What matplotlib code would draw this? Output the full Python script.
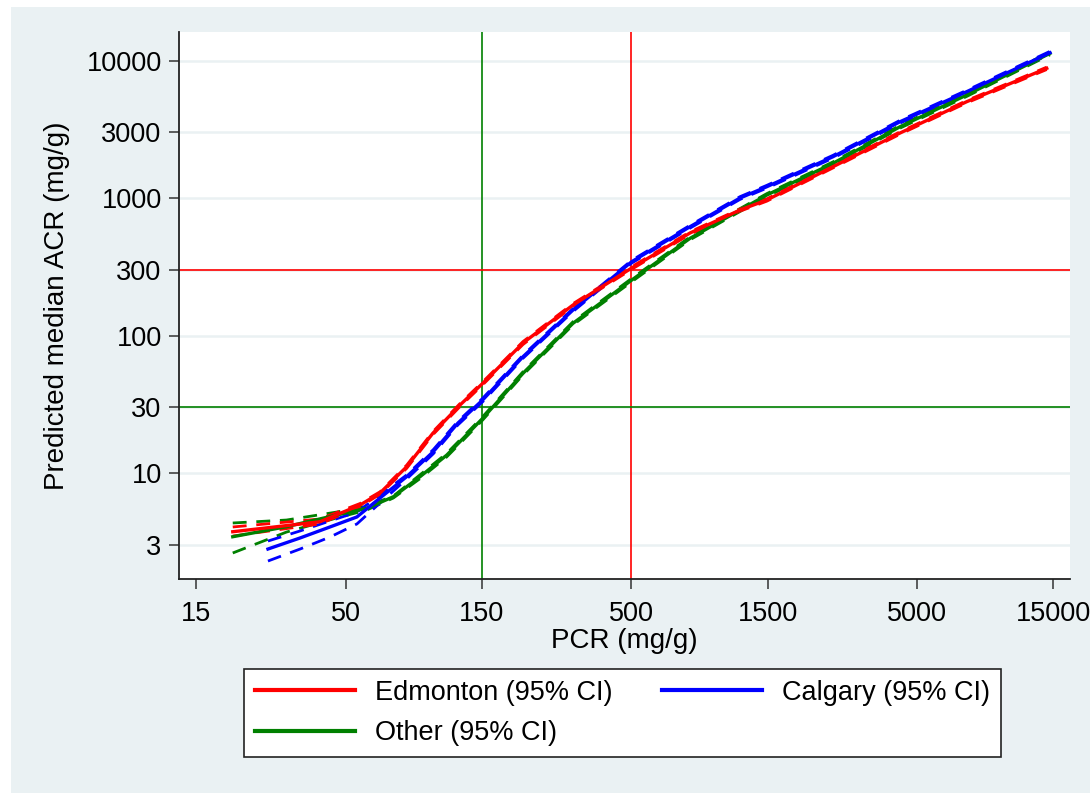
import matplotlib
matplotlib.use("Agg")
import matplotlib.pyplot as plt
from matplotlib.patches import Rectangle
import numpy as np

plt.rcParams['font.family'] = ['Liberation Sans', 'DejaVu Sans']

# PCR (mg/g) and predicted median ACR (mg/g)
edm_pcr = [20.1, 40.6, 56.1, 65.9, 81.7, 101, 125.6, 150.9, 208.8, 312.5,
           501.6, 803, 1202, 1491, 2544, 4368, 7478, 14260]
edm_acr = [3.74, 4.42, 5.85, 7.15, 11.1, 19.5, 31.2, 44.9, 88.2, 166.7,
           309.7, 556.7, 818, 967, 1689, 2970, 5017, 8777]
edm_lo = [3.48, 4.26, 5.70, 7.0, 10.8, 19.0, 30.4, 43.8, 86.0, 163.0,
          303.0, 545.0, 802, 948, 1655, 2910, 4920, 8600]
edm_hi = [4.05, 4.63, 6.0, 7.3, 11.4, 20.0, 32.0, 46.0, 90.4, 170.5,
          316.5, 568.0, 834, 986, 1723, 3030, 5117, 8950]

cal_pcr = [26.7, 34.6, 44.0, 54.7, 65.9, 81.7, 101.3, 123.6, 150.9, 208.8,
           312.5, 501.6, 803, 1202, 1491, 2544, 4368, 7478, 14640]
cal_acr = [2.80, 3.37, 4.05, 4.79, 6.58, 9.40, 14.3, 23.1, 34.0, 70.1,
           153.3, 344, 618.5, 1000, 1208, 1997, 3588, 5933, 11390]
cal_lo = [2.29, 2.80, 3.42, 4.26, 6.05, 9.04, 13.8, 22.4, 33.0, 68.3,
          149.5, 336, 604, 977, 1180, 1950, 3505, 5795, 11120]
cal_hi = [3.20, 3.79, 4.48, 5.20, 6.92, 9.67, 14.8, 23.8, 35.0, 71.9,
          157.0, 352, 633, 1023, 1236, 2044, 3672, 6072, 11660]

oth_pcr = [20.1, 31.0, 46.5, 59.2, 73.4, 91.0, 112.9, 125.6, 150.9, 208.8,
           312.5, 501.6, 803, 1202, 1491, 2544, 4368, 7478, 14640]
oth_acr = [3.44, 4.07, 4.95, 5.54, 6.72, 9.40, 13.5, 16.9, 25.0, 53.1,
           122.7, 253, 509, 818, 1051, 1788, 3300, 5614, 11280]
oth_lo = [2.62, 3.72, 4.71, 5.38, 6.58, 9.1, 13.1, 16.4, 24.3, 51.7,
          119.5, 246, 497, 798, 1026, 1745, 3222, 5480, 11010]
oth_hi = [4.33, 4.55, 5.20, 5.75, 6.80, 9.7, 13.9, 17.4, 25.7, 54.5,
          125.9, 260, 521, 838, 1076, 1831, 3378, 5748, 11550]

xticks = [15, 50, 150, 500, 1500, 5000, 15000]
yticks = [3, 10, 30, 100, 300, 1000, 3000, 10000]

bg = '#eaf1f3'
red = '#ff0000'
blue = '#0000ff'
green = '#008000'

fig = plt.figure(figsize=(10.92, 7.93), dpi=100, facecolor='white')
fig.patches.append(Rectangle((11 / 1092, 0), 1079 / 1092, 786 / 793,
                             transform=fig.transFigure, facecolor=bg,
                             edgecolor='none', zorder=-10))

ax = fig.add_axes([179 / 1092, 1 - 579 / 793, 891 / 1092, 547 / 793])
ax.set_xscale('log')
ax.set_yscale('log')
ax.set_xlim(13.03, 17200)
ax.set_ylim(1.695, 16120)

for t in yticks:
    ax.axhline(t, color=bg, lw=1.8, zorder=0)

ax.axvline(150, color=green, lw=1.2, zorder=1)
ax.axvline(500, color=red, lw=1.2, zorder=1)
ax.axhline(300, color=red, lw=1.2, zorder=1)
ax.axhline(30, color=green, lw=1.2, zorder=1)

dash = (0, (5, 3.5))
for pcr, acr, lo, hi, c in [(oth_pcr, oth_acr, oth_lo, oth_hi, green),
                            (cal_pcr, cal_acr, cal_lo, cal_hi, blue),
                            (edm_pcr, edm_acr, edm_lo, edm_hi, red)]:
    ax.plot(pcr, lo, color=c, lw=2.0, ls=dash, zorder=2)
    ax.plot(pcr, hi, color=c, lw=2.0, ls=dash, zorder=2)

l_oth, = ax.plot(oth_pcr, oth_acr, color=green, lw=2.4, zorder=3)
l_cal, = ax.plot(cal_pcr, cal_acr, color=blue, lw=2.4, zorder=3)
l_edm, = ax.plot(edm_pcr, edm_acr, color=red, lw=2.4, zorder=3)

ax.set_xticks(xticks)
ax.set_xticklabels([str(v) for v in xticks])
ax.set_yticks(yticks)
ax.set_yticklabels([str(v) for v in yticks])
ax.xaxis.set_minor_locator(matplotlib.ticker.NullLocator())
ax.yaxis.set_minor_locator(matplotlib.ticker.NullLocator())
ax.tick_params(axis='both', labelsize=19.5, length=7.5, width=1.1,
               color='#333333', labelcolor='black')
ax.tick_params(axis='x', pad=8)
ax.tick_params(axis='y', pad=5)

for s in ['top', 'right']:
    ax.spines[s].set_visible(False)
for s in ['left', 'bottom']:
    ax.spines[s].set_color('#222222')
    ax.spines[s].set_linewidth(1.3)

ax.set_xlabel('PCR (mg/g)', fontsize=20, labelpad=1)
ax.set_ylabel('Predicted median ACR (mg/g)', fontsize=20, labelpad=12)

# legend is filled column by column: Edmonton, Other | Calgary
leg = fig.legend([l_edm, l_oth, l_cal],
                 ['Edmonton (95% CI)', 'Other (95% CI)', 'Calgary (95% CI)'],
                 loc='center', bbox_to_anchor=(622.5 / 1092, 1 - 713 / 793),
                 ncol=2, fontsize=19.5, frameon=True, fancybox=False,
                 framealpha=1, facecolor='white',
                 handlelength=3.7, handletextpad=0.74, columnspacing=1.8,
                 borderpad=0.42, labelspacing=0.52)
leg.get_frame().set_edgecolor('#222222')
leg.get_frame().set_linewidth(1.2)
for line in leg.get_lines():
    line.set_linewidth(3)

fig.savefig('out.png', dpi=100, facecolor='white')
